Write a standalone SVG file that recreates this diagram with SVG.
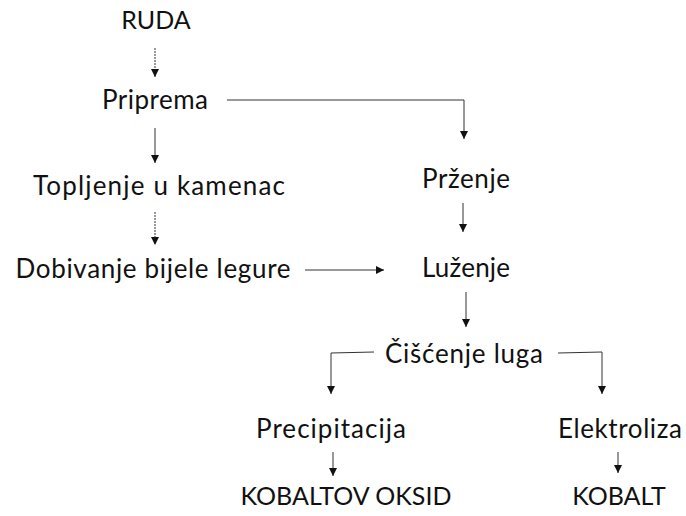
<svg xmlns="http://www.w3.org/2000/svg" width="686" height="516" viewBox="0 0 686 516">
<defs>
<style>
.t{font-family:Lato,"Open Sans","Liberation Sans",sans-serif;font-size:26px;fill:#111;text-anchor:middle}
.u{font-size:25px}
.c{stroke:#333;stroke-width:1;fill:none}
.d{stroke:#333;stroke-width:1;fill:none;stroke-dasharray:2 1}
</style>
<marker id="ah" viewBox="0 0 10 10" refX="10" refY="5" markerWidth="8" markerHeight="8" markerUnits="userSpaceOnUse" orient="auto">
<path d="M0,0 L10,5 L0,10 Z" fill="#111"/>
</marker>
</defs>
<rect width="686" height="516" fill="#fff"/>
<g id="connectors">
<line class="d" x1="155" y1="48" x2="155" y2="77" marker-end="url(#ah)"/>
<polyline class="c" points="227,100 464,100 464,139" marker-end="url(#ah)"/>
<line class="c" x1="155" y1="128" x2="155" y2="163" marker-end="url(#ah)"/>
<line class="d" x1="155" y1="212" x2="155" y2="245" marker-end="url(#ah)"/>
<line class="c" x1="463" y1="203" x2="463" y2="232" marker-end="url(#ah)"/>
<line class="c" x1="305" y1="270" x2="384" y2="270" marker-end="url(#ah)"/>
<line class="c" x1="466" y1="292" x2="466" y2="327" marker-end="url(#ah)"/>
<polyline class="c" points="374,352 331,353 331,394" marker-end="url(#ah)"/>
<polyline class="c" points="558,353 602,352 602,394" marker-end="url(#ah)"/>
<line class="c" x1="333" y1="452" x2="333" y2="476" marker-end="url(#ah)"/>
<line class="c" x1="618" y1="452" x2="618" y2="473" marker-end="url(#ah)"/>
</g>
<g id="ruda"><text class="t u" x="156" y="29">RUDA</text></g>
<g id="priprema"><text class="t" x="155" y="109" textLength="106" lengthAdjust="spacing">Priprema</text></g>
<g id="topljenje"><text class="t" x="159" y="195" textLength="252" lengthAdjust="spacing">Topljenje u kamenac</text></g>
<g id="przenje"><text class="t" x="466" y="188" textLength="88" lengthAdjust="spacing">Prženje</text></g>
<g id="dobivanje"><text class="t" x="153" y="278" textLength="275" lengthAdjust="spacing">Dobivanje bijele legure</text></g>
<g id="luzenje"><text class="t" x="466" y="277" textLength="88" lengthAdjust="spacing">Luženje</text></g>
<g id="ciscenje"><text class="t" x="464" y="363" textLength="158" lengthAdjust="spacing">Čišćenje luga</text></g>
<g id="precipitacija"><text class="t" x="331" y="438" textLength="150" lengthAdjust="spacing">Precipitacija</text></g>
<g id="elektroliza"><text class="t" x="620" y="438" textLength="124" lengthAdjust="spacing">Elektroliza</text></g>
<g id="kobaltov"><text class="t u" x="346" y="505">KOBALTOV OKSID</text></g>
<g id="kobalt"><text class="t u" x="619" y="505">KOBALT</text></g>
</svg>
